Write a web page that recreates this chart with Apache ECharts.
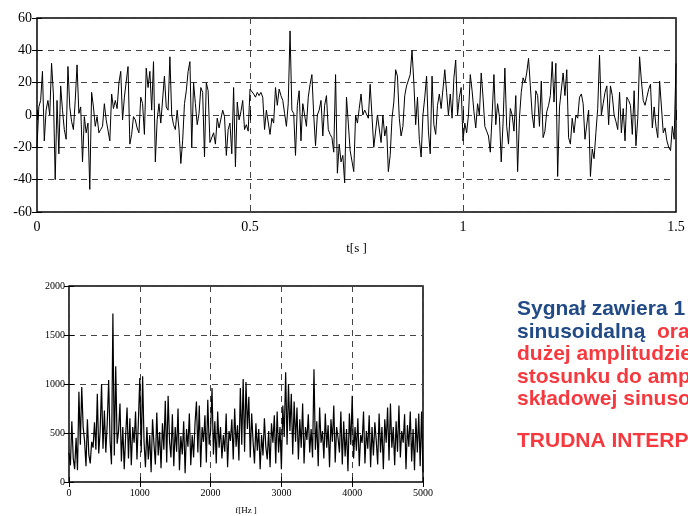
<!DOCTYPE html>
<html>
<head>
<meta charset="utf-8">
<script src="https://cdn.jsdelivr.net/npm/echarts@6/dist/echarts.min.js"></script>
<style>
html,body{margin:0;padding:0;background:#fff;}
#c{width:688px;height:516px;}
</style>
</head>
<body>
<div id="c"></div>
<script>
// Time-domain signal (0 .. 1.5 s)
const signal = [
-20,5,9,27,-16,3,9,0,32,13,
-40,9,-24,18,3,-9,-15,30,5,-4,
-9,9,31,1,5,-29,-1,-11,-5,-46,
14,5,-7,-1,-11,-9,-7,7,-3,-2,
-16,13,4,9,4,20,27,-3,11,12,
30,-18,-12,-1,-3,-8,-11,11,7,-12,
29,17,27,3,33,-29,-3,7,-5,-6,
24,5,3,36,0,-6,-9,3,-9,-30,
-16,7,15,27,33,-20,20,7,-6,1,
17,14,-26,20,15,-17,-16,-11,-18,-2,
-8,-9,3,-1,-25,-9,-5,-24,17,-32,
8,-3,2,9,-9,-6,-10,16,15,
13,11,14,12,14,11,-9,3,2,-12,
-2,-5,17,6,16,12,9,1,-7,7,
52,3,1,-25,6,15,-16,7,0,-7,
11,19,25,0,-19,0,3,9,-13,6,
12,-9,-12,-14,-23,25,-36,-18,-29,-25,
-42,11,-5,-22,-23,-35,0,-5,4,13,
0,3,2,-2,19,19,-20,-21,0,0,
-17,0,-13,-7,-35,-25,-2,8,28,24,
-2,-13,-7,12,18,18,25,40,20,-6,
11,-15,-26,0,11,24,-10,-24,24,-6,
-12,6,13,4,3,28,14,0,13,-2,
23,34,0,11,17,-16,-5,
-11,0,25,15,2,-8,7,0,26,11,
-7,-10,-13,-23,0,25,-6,7,-1,-29,
-5,29,-7,-18,4,0,-10,12,-35,-2,
14,23,20,26,35,18,0,-8,15,12,
-7,21,-14,-10,2,6,12,33,8,32,
-38,5,4,26,12,28,-14,-18,-2,-11,
0,-2,11,13,7,-15,-15,3,-38,-21,
-27,-11,4,37,0,7,14,18,-6,18,
12,0,-4,-9,14,-11,4,-16,11,9,
6,-12,15,-19,-2,36,21,9,6,11,
16,19,-8,5,-7,-14,21,22,-11,-8,
-16,-20,-22,-7,-15,32
];
const tStart = 0, tEnd = 1.5;

// Amplitude spectrum (0 .. 5000 Hz, step 20 Hz)
const spectrum = [
300,170,620,240,130,450,120,920,380,970,
560,420,160,640,280,190,410,350,610,330,
900,290,520,1000,340,730,300,600,1040,420,
180,1720,270,1180,390,520,800,210,560,130,
470,760,240,650,170,560,400,720,230,620,
1060,300,1080,410,150,560,230,480,100,640,
390,180,710,270,510,140,600,330,830,200,
880,420,250,690,160,560,310,750,120,470,
280,620,90,540,360,700,170,480,250,600,
820,300,780,150,560,410,680,200,840,380,
520,960,280,620,190,720,350,560,240,480,
310,700,150,520,420,640,230,750,360,580,
220,960,380,1050,310,1020,540,870,250,700,
410,190,600,320,540,130,480,270,650,360,
230,520,150,600,400,680,190,720,300,560,
130,780,460,1120,380,1000,520,900,280,820,
410,760,230,640,350,800,190,560,430,690,
300,540,250,1150,330,620,160,760,400,520,
240,700,350,580,150,640,410,780,200,560,
450,300,720,180,620,260,540,110,700,380,
880,240,560,320,650,160,480,400,720,190,
520,340,680,150,560,270,610,420,180,700,
300,560,130,640,400,760,220,800,350,560,
170,620,310,780,250,520,400,690,130,580,
360,720,210,540,120,650,300,700,160,720,
100
];
const fStep = 20;

const topXTicks = [0, 0.5, 1, 1.5];
const topYTicks = [-60, -40, -20, 0, 20, 40, 60];
const botXTicks = [0, 1000, 2000, 3000, 4000, 5000];
const botYTicks = [0, 500, 1000, 1500, 2000];

const textLines = [
  [{t:'Sygnał zawiera 1 składową', c:'b'}],
  [{t:'sinusoidalną', c:'b'}, {t:'  oraz szum o', c:'r'}],
  [{t:'dużej amplitudzie w', c:'r'}],
  [{t:'stosunku do amplitudy', c:'r'}],
  [{t:'składowej sinusoidalnej', c:'r'}]
];
const noteText = 'TRUDNA INTERPRETACJA';

const sigData = signal.map((v, i) => [tStart + i * (tEnd - tStart) / (signal.length - 1), v]);
const specData = spectrum.map((v, i) => [i * fStep, v]);

const serif = "'Liberation Serif','Times New Roman',serif";
const dash = {color:'#444', width:1, type:[6,5]};
const plain = v => String(v);

function mainX(gi, min, max, ticks, fs, name, nameGap, labelMargin){
  return {gridIndex:gi, type:'value', min:min, max:max, interval:ticks[1]-ticks[0],
    axisLine:{show:false}, axisTick:{show:true, inside:true, length:5, lineStyle:{color:'#000'}},
    axisLabel:{color:'#000', fontFamily:serif, fontSize:fs, margin:labelMargin, formatter:plain},
    splitLine:{show:true, lineStyle:dash},
    name:name, nameLocation:'middle', nameGap:nameGap,
    nameTextStyle:{color:'#000', fontFamily:serif, fontSize:fs-1}};
}
function mainY(gi, min, max, ticks, fs, labelMargin){
  return {gridIndex:gi, type:'value', min:min, max:max, interval:ticks[1]-ticks[0],
    axisLine:{show:false}, axisTick:{show:true, inside:true, length:5, lineStyle:{color:'#000'}},
    axisLabel:{color:'#000', fontFamily:serif, fontSize:fs, margin:labelMargin, formatter:plain},
    splitLine:{show:true, lineStyle:dash}};
}
function sideAxis(gi, min, max, ticks, pos){
  return {gridIndex:gi, type:'value', min:min, max:max, interval:ticks[1]-ticks[0], position:pos,
    axisLine:{show:false}, axisTick:{show:true, inside:true, length:5, lineStyle:{color:'#000'}},
    axisLabel:{show:false}, splitLine:{show:false}};
}

const graphic = textLines.map((line, k) => ({
  type:'text', left:517, top: 299 + k*22.5,
  style:{
    text: line.map(s => '{' + s.c + '|' + s.t + '}').join(''),
    rich:{
      b:{fill:'#214a86', font:"bold 21px 'Liberation Sans', Arial, sans-serif"},
      r:{fill:'#f5393f', font:"bold 21px 'Liberation Sans', Arial, sans-serif"}
    }
  }
}));
graphic.push({type:'text', left:517, top:431,
  style:{text:noteText, fill:'#f5393f', font:"bold 21px 'Liberation Sans', Arial, sans-serif"}});

const chart = echarts.init(document.getElementById('c'), null, {renderer:'canvas'});
chart.setOption({
  animation:false,
  backgroundColor:'#fff',
  grid:[
    {left:37, top:18, width:639, height:194, show:true, borderColor:'#000', borderWidth:1.5, backgroundColor:'transparent'},
    {left:69, top:286, width:354, height:197, show:true, borderColor:'#000', borderWidth:1.5, backgroundColor:'transparent'}
  ],
  xAxis:[
    mainX(0, 0, 1.5, topXTicks, 14, 't[s ]', 30, 8),
    sideAxis(0, 0, 1.5, topXTicks, 'top'),
    mainX(1, 0, 5000, botXTicks, 10, 'f[Hz ]', 24, 6),
    sideAxis(1, 0, 5000, botXTicks, 'top')
  ],
  yAxis:[
    mainY(0, -60, 60, topYTicks, 14, 5),
    sideAxis(0, -60, 60, topYTicks, 'right'),
    mainY(1, 0, 2000, botYTicks, 10, 4),
    sideAxis(1, 0, 2000, botYTicks, 'right')
  ],
  series:[
    {type:'line', xAxisIndex:0, yAxisIndex:0, data:sigData, symbol:'none', lineStyle:{color:'#000', width:1}},
    {type:'line', xAxisIndex:2, yAxisIndex:2, data:specData, symbol:'none', lineStyle:{color:'#000', width:1.2}}
  ],
  graphic:graphic
});
</script>
</body>
</html>
